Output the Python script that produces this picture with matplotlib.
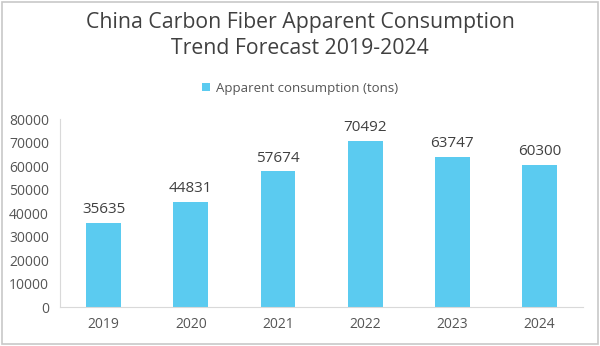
import matplotlib
matplotlib.use("Agg")
from matplotlib import pyplot as plt
from matplotlib.patches import Rectangle

years = ['2019', '2020', '2021', '2022', '2023', '2024']
consumption = [35635, 44831, 57674, 70492, 63747, 60300]
yticks = [0, 10000, 20000, 30000, 40000, 50000, 60000, 70000, 80000]

plt.rcParams['font.family'] = ['Open Sans', 'DejaVu Sans']

bar_color = '#5BCBF0'
text_color = '#404040'

fig = plt.figure(figsize=(6, 3.46), dpi=100)
ax = fig.add_axes([0.1, 0.1127, 0.872, 0.5433])

x = range(len(years))
bars = ax.bar(x, consumption, width=0.4, color=bar_color, label='Apparent consumption (tons)')
for xi, v in zip(x, consumption):
    ax.text(xi, v + 2500, str(v), ha='center', va='bottom', fontsize=11, color=text_color)

ax.set_xlim(-0.5, len(years) - 0.5)
ax.set_ylim(0, 80000)
ax.set_yticks(yticks)
ax.set_xticks(list(x))
ax.set_xticklabels(years)
ax.tick_params(axis='both', length=0, labelsize=10, colors='#555555')
ax.tick_params(axis='x', pad=7)
ax.tick_params(axis='y', pad=8)

for side in ['top', 'right']:
    ax.spines[side].set_visible(False)
ax.spines['left'].set_color('#D9D9D9')
ax.spines['bottom'].set_color('#D9D9D9')

fig.text(0.5, 0.935, 'China Carbon Fiber Apparent Consumption', ha='center', va='center',
         fontsize=15.3, color=text_color)
fig.text(0.5, 0.86, 'Trend Forecast 2019-2024', ha='center', va='center',
         fontsize=15.3, color=text_color)

fig.legend(handles=[bars], loc='center', bbox_to_anchor=(0.5, 0.745), frameon=False,
           fontsize=9.5, handlelength=0.6, handleheight=0.6, handletextpad=0.4,
           labelcolor='#555555')

fig.patches.append(Rectangle((0.003, 0.005), 0.994, 0.99, transform=fig.transFigure,
                             fill=False, edgecolor='#C8C8C8', linewidth=1.2))

fig.savefig('out.png', dpi=100)
